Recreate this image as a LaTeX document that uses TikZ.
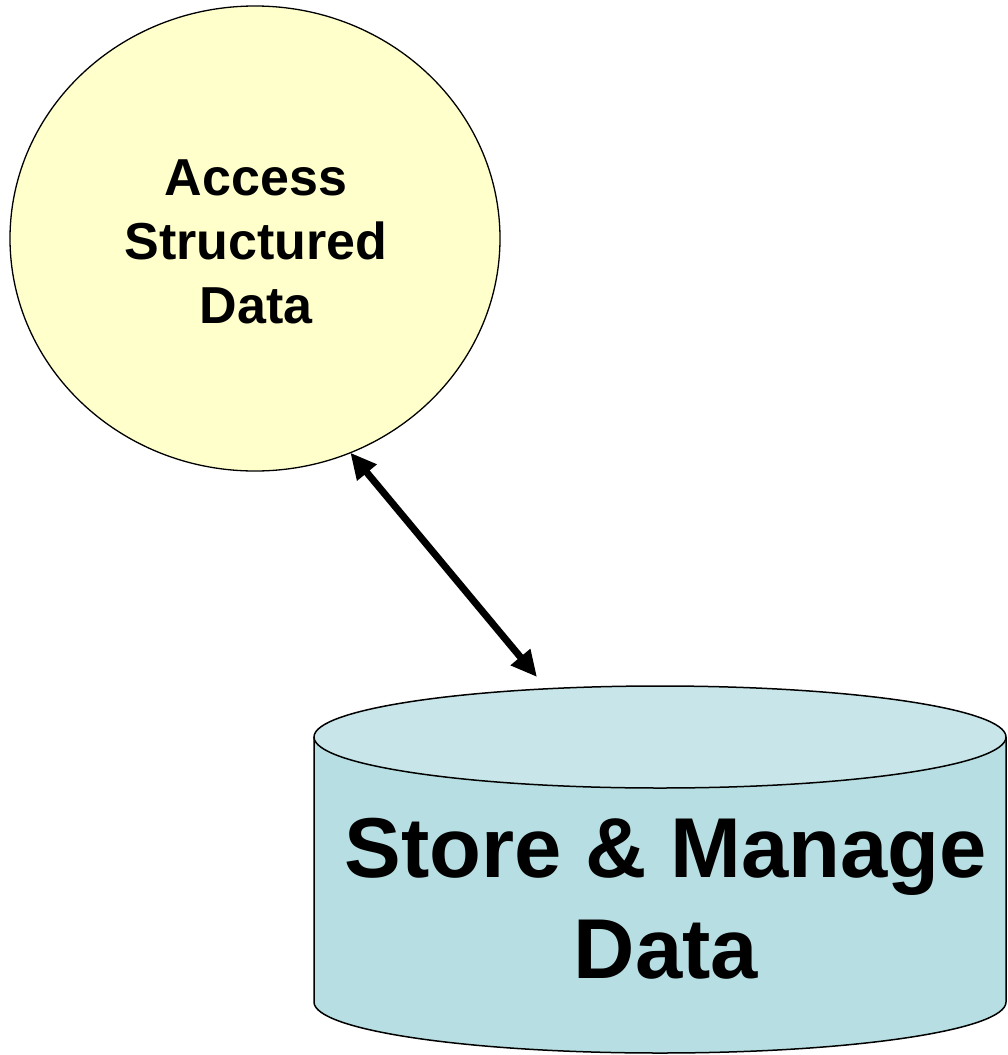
\documentclass[tikz,border=0pt]{standalone}
\usepackage{fontspec}
\setmainfont{Liberation Sans}
\usetikzlibrary{shapes.geometric,arrows.meta}
\definecolor{bubble}{RGB}{255,255,204}
\definecolor{drumtop}{RGB}{200,230,233}
\definecolor{drumside}{RGB}{183,223,227}
\begin{document}
\begin{tikzpicture}[x=1pt,y=1pt,
  process/.style={ellipse,draw=black,line width=1.3pt,fill=bubble,
    minimum width=490pt,minimum height=465pt,inner sep=0pt,outer sep=0pt},
  processlabel/.style={inner sep=0pt,align=center,
    font=\fontsize{52}{64}\selectfont\bfseries},
  storelabel/.style={inner sep=0pt,align=center,
    font=\fontsize{85}{101}\selectfont\bfseries},
  outline/.style={draw=black,line width=1.5pt},
  link/.style={line width=7pt,
    {Triangle[length=26pt,width=24pt]}-{Triangle[length=26pt,width=24pt]}}]
\useasboundingbox (0,0) rectangle (1008,-1055);

% process bubble
\node[process] (access) at (255,-238.5) {};
\node[processlabel] (accesstext) at (256,-241.5) {Access\\Structured\\Data};

% data store drum
\fill[drumside] (314,-737) -- (314,-1002) arc (180:360:346 and 51) -- (1006,-737) -- cycle;
\draw[outline] (314,-737) -- (314,-1002) arc (180:360:346 and 51) -- (1006,-737);
\draw[outline,fill=drumtop] (660,-737) ellipse (346 and 51);
\node[storelabel] (store) at (666,-899) {Store \& Manage\\Data};
\coordinate (drumtip) at (537,-677);

% two-way flow
\draw[link] (access.-66.3) -- (drumtip);
\end{tikzpicture}
\end{document}
